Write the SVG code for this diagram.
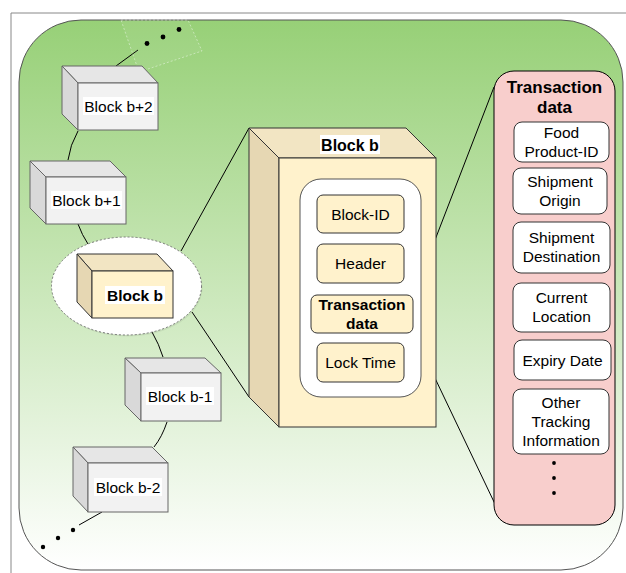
<svg xmlns="http://www.w3.org/2000/svg" width="626" height="573" viewBox="0 0 626 573">
<defs>
<linearGradient id="bg" x1="0" y1="0" x2="0" y2="1">
<stop offset="0" stop-color="#97d077"/>
<stop offset="1" stop-color="#ffffff"/>
</linearGradient>
<style>
text{font-family:"Liberation Sans",Arial,Helvetica,sans-serif;font-size:15.5px;fill:#000;text-anchor:middle}
.b{font-weight:bold}
.gf{fill:#f2f2f2;stroke:#666;stroke-width:1}
.gt{fill:#e6e6e6;stroke:#666;stroke-width:1}
.gl{fill:#d9d9d9;stroke:#666;stroke-width:1}
.yf{fill:#fff2cc;stroke:#333;stroke-width:1}
.yt{fill:#f2e5c3;stroke:#333;stroke-width:1}
.yl{fill:#e6d7b3;stroke:#333;stroke-width:1}
.wb{fill:#fff}
.ib{fill:#fff2cc;stroke:#333;stroke-width:1}
.pb{fill:#fff;stroke:#333;stroke-width:1}
.ln{fill:none;stroke:#000;stroke-width:1}
.dot{fill:#000}
</style>
</defs>
<path d="M11 573 V13 H626" fill="none" stroke="#888" stroke-width="1"/>
<rect x="19" y="20" width="604" height="550" rx="62" ry="62" fill="url(#bg)" stroke="#555" stroke-width="1"/>
<g id="connectors">
<path class="ln" d="M116 66 L138 50"/>
<path class="ln" d="M78 131 Q70 145 68 160"/>
<path class="ln" d="M78 224 Q82 235 88 244"/>
<path class="ln" d="M152 332 Q159 344 163 357"/>
<path class="ln" d="M167 422 Q162 437 154 447"/>
<path class="ln" d="M102 512 L79 525"/>
<path class="ln" d="M181 251 L249 128"/>
<path class="ln" d="M192 312 L249 397"/>
<path class="ln" d="M413 297 L494 87"/>
<path class="ln" d="M413 332 L495 504"/>
</g>
<g id="dots-top">
<polygon points="121,20 188,20 202,51 139,72" fill="#ffffff" fill-opacity="0.06" stroke="#ffffff" stroke-opacity="0.6" stroke-dasharray="2 2" stroke-width="0.7"/>
<circle class="dot" cx="147" cy="43.5" r="2.4"/>
<circle class="dot" cx="163" cy="37" r="2.4"/>
<circle class="dot" cx="179" cy="29.5" r="2.4"/>
</g>
<g id="dots-bottom">
<circle class="dot" cx="73" cy="530" r="2.2"/>
<circle class="dot" cx="58" cy="538" r="2.2"/>
<circle class="dot" cx="43" cy="547" r="2.2"/>
</g>
<g id="block-b2">
<polygon class="gt" points="62,66 142,66 158,83 78,83"/>
<polygon class="gl" points="62,66 78,83 78,130 62,114"/>
<rect class="gf" x="78" y="83" width="80" height="47"/>
<rect class="wb" x="83" y="97" width="71" height="18"/>
<text x="118.5" y="111.5">Block b+2</text>
</g>
<g id="block-b1">
<polygon class="gt" points="30,161 110,161 126,177 46,177"/>
<polygon class="gl" points="30,161 46,177 46,224 30,208"/>
<rect class="gf" x="46" y="177" width="80" height="47"/>
<rect class="wb" x="51" y="191" width="71" height="18"/>
<text x="86.5" y="205.5">Block b+1</text>
</g>
<g id="block-b">
<ellipse cx="127.5" cy="287.5" rx="75" ry="49" fill="#000" fill-opacity="0.06"/>
<ellipse cx="126.5" cy="286" rx="75" ry="49" fill="#fff" stroke="#777" stroke-width="1" stroke-dasharray="2 2"/>
<polygon class="yt" points="77,254 157,254 173,271 92,271"/>
<polygon class="yl" points="77,254 92,271 92,318 77,302"/>
<rect class="yf" x="92" y="271" width="81" height="47"/>
<rect class="wb" x="105" y="286" width="60" height="18"/>
<text class="b" x="135" y="300.5">Block b</text>
</g>
<g id="block-b-1">
<polygon class="gt" points="125,358 205,358 221,373 141,373"/>
<polygon class="gl" points="125,358 141,373 141,421 125,405"/>
<rect class="gf" x="141" y="373" width="80" height="48"/>
<rect class="wb" x="146" y="387" width="68" height="18"/>
<text x="180" y="401.5">Block b-1</text>
</g>
<g id="block-b-2">
<polygon class="gt" points="73,447 152,447 168,463 88,463"/>
<polygon class="gl" points="73,447 88,463 88,512 73,496"/>
<rect class="gf" x="88" y="463" width="80" height="49"/>
<rect class="wb" x="94" y="478" width="68" height="18"/>
<text x="128" y="492.5">Block b-2</text>
</g>
<g id="block-b-detail">
<polygon class="yt" points="249,128 406,128 436,158 279,158"/>
<polygon class="yl" points="249,128 279,158 279,427 249,397"/>
<rect class="yf" x="279" y="158" width="157" height="269"/>
<rect class="wb" x="320" y="135" width="60" height="19"/>
<text class="b" x="350" y="150.5" style="font-size:16px">Block b</text>
<rect x="300" y="179" width="121" height="218" rx="21" ry="21" fill="#fff" stroke="#555" stroke-width="1"/>
<g id="block-id"><rect class="ib" x="317" y="195" width="87" height="38" rx="6"/><text x="360.5" y="219.5">Block-ID</text></g>
<g id="header"><rect class="ib" x="317" y="244" width="87" height="39" rx="6"/><text x="360.5" y="269">Header</text></g>
<g id="tx-data"><rect class="ib" x="311" y="295" width="102" height="38" rx="6"/><text class="b" x="362" y="310">Transaction</text><text class="b" x="362" y="329">data</text></g>
<g id="lock-time"><rect class="ib" x="317" y="343" width="87" height="39" rx="6"/><text x="360.5" y="367.5">Lock Time</text></g>
</g>
<g id="tx-panel">
<rect x="494" y="71" width="121" height="454" rx="20" ry="20" fill="#f8cecc" stroke="#000" stroke-width="1"/>
<text class="b" x="554.5" y="93" style="font-size:17px">Transaction</text>
<text class="b" x="554.5" y="113" style="font-size:17px">data</text>
<g id="food-id"><rect class="pb" x="514" y="122" width="95" height="40" rx="8"/><text x="561.5" y="138">Food</text><text x="561.5" y="157">Product-ID</text></g>
<g id="ship-origin"><rect class="pb" x="513" y="168" width="94" height="46" rx="8"/><text x="560" y="187">Shipment</text><text x="560" y="206">Origin</text></g>
<g id="ship-dest"><rect class="pb" x="513" y="222" width="97" height="51" rx="8"/><text x="561.5" y="243">Shipment</text><text x="561.5" y="262">Destination</text></g>
<g id="cur-loc"><rect class="pb" x="513" y="283" width="97" height="49" rx="8"/><text x="561.5" y="303">Current</text><text x="561.5" y="322">Location</text></g>
<g id="expiry"><rect class="pb" x="514" y="340" width="97" height="40" rx="8"/><text x="562.5" y="365.5">Expiry Date</text></g>
<g id="other"><rect class="pb" x="513" y="389" width="96" height="65" rx="8"/><text x="561" y="408">Other</text><text x="561" y="427">Tracking</text><text x="561" y="446">Information</text></g>
<circle class="dot" cx="554" cy="463" r="1.9"/>
<circle class="dot" cx="554" cy="478" r="1.9"/>
<circle class="dot" cx="554" cy="493" r="1.9"/>
</g>
</svg>
